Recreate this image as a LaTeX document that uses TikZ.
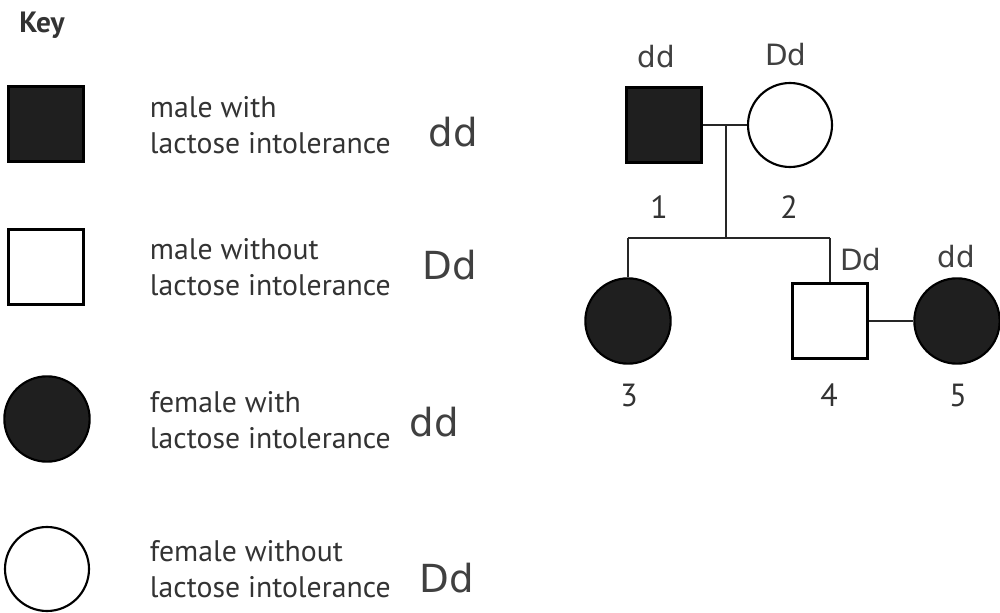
\documentclass[tikz,border=0pt]{standalone}
\usepackage{fontspec}
\setmainfont{PT Sans}
\newfontfamily\handfont{DejaVu Sans}

\tikzset{every picture/.style={line width=0.75pt}}
\tikzset{
  affmale/.style={draw,fill=black!88,line width=1.8pt,minimum size=56pt,inner sep=0pt},
  unaffmale/.style={draw,fill=white,line width=1.8pt,minimum size=56pt,inner sep=0pt},
  afffemale/.style={circle,draw,fill=black!88,line width=1.6pt,minimum size=64pt,inner sep=0pt},
  unafffemale/.style={circle,draw,fill=white,line width=1.6pt,minimum size=63pt,inner sep=0pt},
  keytext/.style={anchor=west,align=left,font=\fontsize{22.3}{27}\selectfont,text=black!80},
  genotype/.style={font=\handfont\fontsize{29}{29}\selectfont,text=black!75},
  smallgeno/.style={font=\handfont\fontsize{22}{22}\selectfont,text=black!75},
  idlabel/.style={font=\fontsize{24}{24}\selectfont,text=black!80},
  link/.style={line width=1.6pt,draw=black!85}
}

\begin{document}
\begin{tikzpicture}[x=0.75pt,y=0.75pt,yscale=-1,xscale=1]
\useasboundingbox (0,0) rectangle (1000,613);

% Text Node
\node [font=\bfseries\fontsize{22}{22}\selectfont,text=black!80] (keyhead) at (42,25) {Key};

%Shape: Key square filled
\node [affmale] (keyaffm) at (46,124) {};
% Text Node
\node [keytext] (keyaffmtext) at (145,125) {male with\\lactose intolerance};
% Text Node
\node [genotype] (keyaffmgeno) at (453,132) {dd};

%Shape: Key square empty
\node [unaffmale] (keyunaffm) at (46,267) {};
% Text Node
\node [keytext] (keyunaffmtext) at (145,267) {male without\\lactose intolerance};
% Text Node
\node [genotype] (keyunaffmgeno) at (450,265) {Dd};

%Shape: Key circle filled
\node [afffemale] (keyafff) at (47,419) {};
% Text Node
\node [keytext] (keyaffftext) at (145,420) {female with\\lactose intolerance};
% Text Node
\node [genotype] (keyafffgeno) at (434,422) {dd};

%Shape: Key circle empty
\node [unafffemale] (keyunafff) at (47,569) {};
% Text Node
\node [keytext] (keyunaffftext) at (145,569) {female without\\lactose intolerance};
% Text Node
\node [genotype] (keyunafffgeno) at (447,578) {Dd};

%Shape: Pedigree individuals
\node [affmale] (ind1) at (664,125) {};
\node [unafffemale] (ind2) at (790,125) {};
\node [afffemale] (ind3) at (628,321) {};
\node [unaffmale] (ind4) at (830,321) {};
\node [afffemale] (ind5) at (957,321) {};

%Straight Lines: marriage and sibship
\coordinate (mate12) at (726,125);
\coordinate (sibs) at (726,238);
\coordinate (sibleft) at (628,238);
\coordinate (sibright) at (830,238);
\draw [link] (ind1.east) -- (ind2.west);
\draw [link] (mate12) -- (sibs);
\draw [link] (sibleft) -- (sibright);
\draw [link] (sibleft) -- (ind3.north);
\draw [link] (sibright) -- (ind4.north);
\draw [link] (ind4.east) -- (ind5.west);

% Text Node
\node [idlabel] (lab1) at (659,207) {1};
\node [idlabel] (lab2) at (789,207) {2};
\node [idlabel] (lab3) at (629,395) {3};
\node [idlabel] (lab4) at (829,395) {4};
\node [idlabel] (lab5) at (958,395) {5};

% Text Node
\node [smallgeno] (geno1) at (656,57) {dd};
\node [smallgeno] (geno2) at (786,55) {Dd};
\node [smallgeno] (geno4) at (861,260) {Dd};
\node [smallgeno] (geno5) at (956,257) {dd};

\end{tikzpicture}
\end{document}
